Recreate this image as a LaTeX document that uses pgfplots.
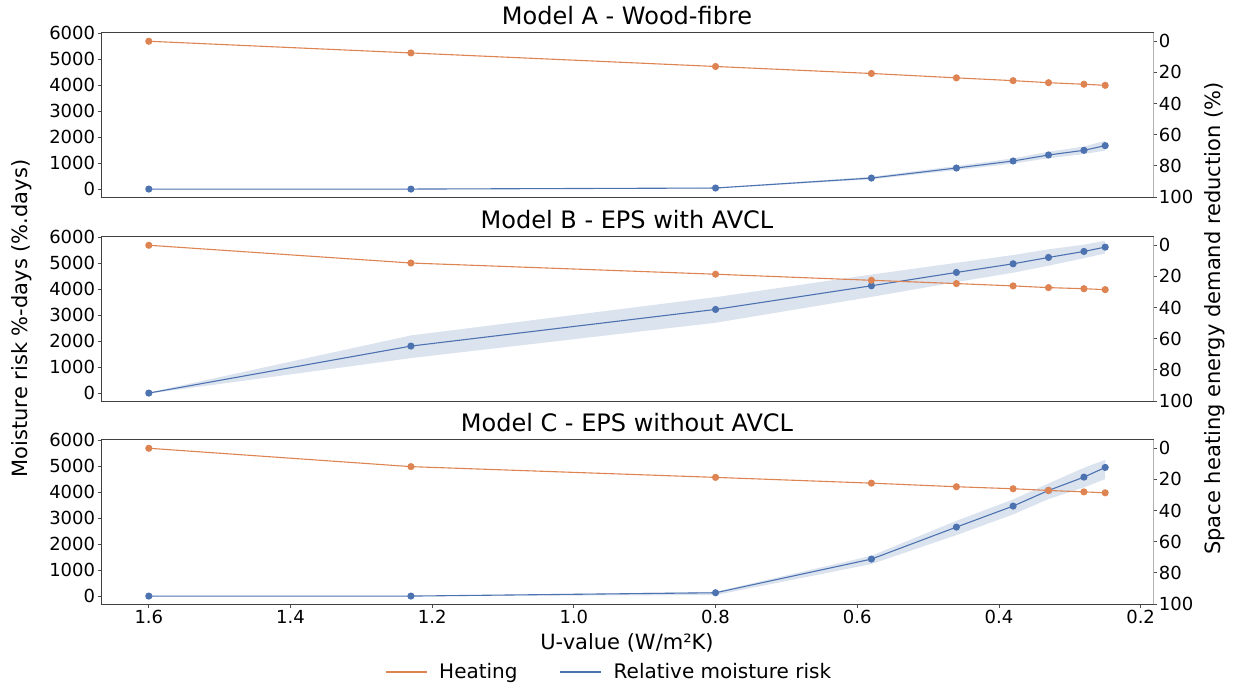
\documentclass[border=0pt]{standalone}
\usepackage{pgfplots}
\usepackage{pgfplotstable}
\pgfplotsset{compat=1.18}
\usepgfplotslibrary{fillbetween}
\usepackage{fontspec}
\setmainfont{DejaVu Sans}
\definecolor{hcol}{HTML}{DD8452}
\definecolor{mcol}{HTML}{4C72B0}

% x: U-value, heat: heating demand reduction (%), moist: moisture risk, up/lo: band
\pgfplotstableread{
x     heat  moist  up    lo
1.60  0.0   0      0     0
1.23  7.5   0      0     0
0.80  16.2  40     55    25
0.58  20.7  424    474   374
0.46  23.5  810    890   730
0.38  25.3  1080   1180  980
0.33  26.6  1311   1436  1186
0.28  27.6  1491   1636  1346
0.25  28.3  1671   1860  1480
}\tA
\pgfplotstableread{
x     heat  moist  up    lo
1.60  0.0   0      20    -20
1.23  11.4  1808   2218  1346
0.80  18.6  3218   3690  2705
0.58  22.5  4128   4560  3700
0.46  24.6  4641   5010  4270
0.38  26.1  4974   5310  4630
0.33  27.2  5218   5530  4900
0.28  27.9  5449   5710  5190
0.25  28.5  5615   5860  5370
}\tB
\pgfplotstableread{
x     heat  moist  up    lo
1.60  0.0   0      0     0
1.23  11.8  0      0     0
0.80  18.7  128    166   38
0.58  22.4  1423   1551  1231
0.46  24.7  2654   2897  2346
0.38  26.0  3462   3718  3141
0.33  27.1  4064   4333  3731
0.28  28.0  4577   4935  4181
0.25  28.6  4949   5240  4500
}\tC

\pgfplotsset{
  base/.style={scale only axis, width=526pt, height=82pt,
    xmin=0.1825, xmax=1.6675, x dir=reverse,
    /pgf/number format/assume math mode=true,
    tick label style={font=\fontsize{9}{10}\selectfont, inner sep=1pt},
    tick align=outside, major tick length=1.75pt,
    every tick/.style={black!70, line width=0.4pt},
    clip=false},
  leftax/.style={base, ymin=-305, ymax=6005, ytick={0,1000,2000,3000,4000,5000,6000},
    ytick pos=left, xtick pos=bottom,
    axis line style={black!75, line width=0.5pt},
    yticklabel style={/pgf/number format/.cd, fixed, 1000 sep={}},
    title style={font=\fontsize{12}{14}\selectfont, at={(0.5,1)}, anchor=base, yshift=-1.6pt}},
  rightax/.style={base, ymin=-5.3, ymax=100, y dir=reverse,
    axis y line*=right, axis x line=none, xtick=\empty,
    ytick={0,20,40,60,80,100},
    y axis line style={black!30, line width=0.5pt}},
  band/.style={draw=none, forget plot},
  mline/.style={mcol, line width=0.55pt, mark=*, mark size=1.5pt, mark options={fill=mcol, draw=mcol}, forget plot},
  hline/.style={hcol, line width=0.55pt, mark=*, mark size=1.5pt, mark options={fill=hcol, draw=hcol}, forget plot},
}

\begin{document}
\begin{tikzpicture}

% ---------- Panel A ----------
\begin{axis}[leftax, at={(50.5pt,245pt)}, anchor=south west, xtick=\empty,
  title={Model A - Wood-fibre}]
  \addplot[band, name path=upA] table[x=x, y=up] {\tA};
  \addplot[band, name path=loA] table[x=x, y=lo] {\tA};
  \addplot[mcol, fill opacity=0.2, draw=none, forget plot] fill between[of=upA and loA];
  \addplot[mline] table[x=x, y=moist] {\tA};
\end{axis}
\begin{axis}[rightax, at={(50.5pt,245pt)}, anchor=south west]
  \addplot[hline] table[x=x, y=heat] {\tA};
\end{axis}

% ---------- Panel B ----------
\begin{axis}[leftax, at={(50.5pt,143pt)}, anchor=south west, xtick=\empty,
  title={Model B - EPS with AVCL}]
  \addplot[band, name path=upB] table[x=x, y=up] {\tB};
  \addplot[band, name path=loB] table[x=x, y=lo] {\tB};
  \addplot[mcol, fill opacity=0.2, draw=none, forget plot] fill between[of=upB and loB];
  \addplot[mline] table[x=x, y=moist] {\tB};
\end{axis}
\begin{axis}[rightax, at={(50.5pt,143pt)}, anchor=south west]
  \addplot[hline] table[x=x, y=heat] {\tB};
\end{axis}

% ---------- Panel C ----------
\begin{axis}[leftax, at={(50.5pt,41.5pt)}, anchor=south west,
  xtick={0.2,0.4,0.6,0.8,1.0,1.2,1.4,1.6},
  xticklabel style={/pgf/number format/.cd, fixed, fixed zerofill, precision=1},
  title={Model C - EPS without AVCL},
  xlabel={U-value (W/m²K)},
  xlabel style={font=\fontsize{10.5}{12}\selectfont, at={(0.5,0)}, anchor=base, yshift=-22.8pt}]
  \addplot[band, name path=upC] table[x=x, y=up] {\tC};
  \addplot[band, name path=loC] table[x=x, y=lo] {\tC};
  \addplot[mcol, fill opacity=0.2, draw=none, forget plot] fill between[of=upC and loC];
  \addplot[mline] table[x=x, y=moist] {\tC};
\end{axis}
\begin{axis}[rightax, at={(50.5pt,41.5pt)}, anchor=south west,
  legend columns=2,
  legend style={at={(0.484,-0.4146)}, anchor=center, draw=none, fill=none,
    font=\fontsize{10}{12}\selectfont,
    /tikz/every even column/.append style={column sep=19pt},
    /tikz/every odd column/.append style={column sep=4pt}},
  legend image code/.code={\draw[#1] (0pt,0pt) -- (20.5pt,0pt);}]
  \addplot[hline] table[x=x, y=heat] {\tC};
  \addlegendimage{hcol, line width=0.55pt}
  \addlegendentry{Heating}
  \addlegendimage{mcol, line width=0.55pt}
  \addlegendentry{Relative moisture risk}
\end{axis}

\node[rotate=90, font=\fontsize{10.5}{12}\selectfont] at (11pt,184.25pt) {Moisture risk \%-days (\%.days)};
\node[rotate=90, font=\fontsize{10.5}{12}\selectfont] at (607.5pt,184.25pt) {Space heating energy demand reduction (\%)};
\pgfresetboundingbox
\path[use as bounding box] (0,0) rectangle (618.5pt,343.5pt);
\end{tikzpicture}
\end{document}
